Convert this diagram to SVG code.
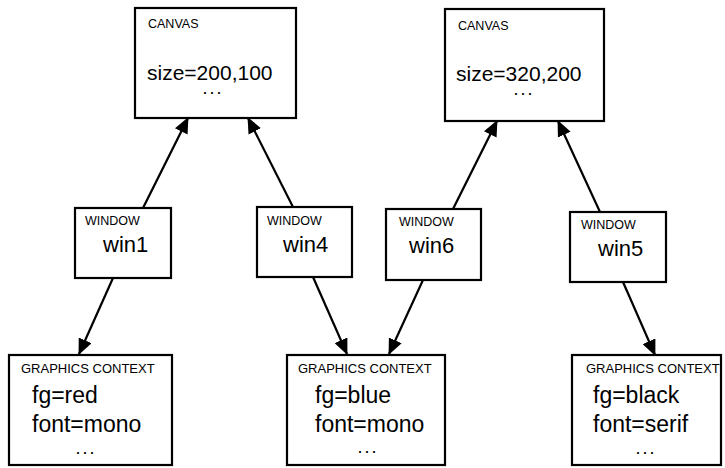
<svg xmlns="http://www.w3.org/2000/svg" width="725" height="468" viewBox="0 0 725 468">
<style>
.box{fill:#fff;stroke:#000;stroke-width:2.2}
.t{font-family:"Liberation Sans",Arial,sans-serif;fill:#000}
.s{font-size:12.5px}
.g{font-size:13px}
.m{font-size:21px}
.l{font-size:22px}
.x{font-size:23px}
.d{font-size:18px;letter-spacing:2px}
.e{stroke:#000;stroke-width:2.2;fill:none;marker-end:url(#ah)}
</style>
<defs>
<marker id="ah" markerUnits="userSpaceOnUse" markerWidth="16" markerHeight="14" refX="15" refY="7" orient="auto">
<path d="M0,0 L16,7 L0,14 Z" fill="#000"/>
</marker>
</defs>
<rect width="725" height="468" fill="#fff"/>
<g id="connectors">
<line class="e" x1="143" y1="208" x2="188" y2="118"/>
<line class="e" x1="293" y1="207" x2="248" y2="118"/>
<line class="e" x1="453" y1="209" x2="497" y2="121"/>
<line class="e" x1="600" y1="212" x2="558" y2="121"/>
<line class="e" x1="113" y1="278" x2="79" y2="354"/>
<line class="e" x1="313" y1="277" x2="347" y2="354"/>
<line class="e" x1="423" y1="280" x2="389" y2="354"/>
<line class="e" x1="623" y1="282" x2="655" y2="355"/>
</g>
<g id="canvas1">
<rect class="box" x="135" y="8" width="161" height="110"/>
<text class="t s" x="148" y="28">CANVAS</text>
<text class="t m" x="147" y="80">size=200,100</text>
<text class="t d" x="213" y="94" text-anchor="middle">...</text>
</g>
<g id="canvas2">
<rect class="box" x="445" y="9" width="159" height="112"/>
<text class="t s" x="458" y="30">CANVAS</text>
<text class="t m" x="456" y="81">size=320,200</text>
<text class="t d" x="524" y="95" text-anchor="middle">...</text>
</g>
<g id="win1">
<rect class="box" x="75" y="208" width="96" height="70"/>
<text class="t s" x="85" y="225">WINDOW</text>
<text class="t l" x="103" y="252">win1</text>
</g>
<g id="win4">
<rect class="box" x="257" y="207" width="95" height="70"/>
<text class="t s" x="267" y="225">WINDOW</text>
<text class="t l" x="283" y="252">win4</text>
</g>
<g id="win6">
<rect class="box" x="386" y="209" width="95" height="71"/>
<text class="t s" x="399" y="226">WINDOW</text>
<text class="t l" x="409" y="253">win6</text>
</g>
<g id="win5">
<rect class="box" x="570" y="212" width="96" height="70"/>
<text class="t s" x="581" y="229">WINDOW</text>
<text class="t l" x="598" y="256">win5</text>
</g>
<g id="gc1">
<rect class="box" x="9" y="355" width="163" height="110"/>
<text class="t g" x="21" y="373">GRAPHICS CONTEXT</text>
<text class="t x" x="32" y="403">fg=red</text>
<text class="t x" x="32" y="432">font=mono</text>
<text class="t d" x="86" y="454" text-anchor="middle">...</text>
</g>
<g id="gc2">
<rect class="box" x="287" y="355" width="158" height="110"/>
<text class="t g" x="298" y="373">GRAPHICS CONTEXT</text>
<text class="t x" x="315" y="403">fg=blue</text>
<text class="t x" x="315" y="432">font=mono</text>
<text class="t d" x="368" y="453" text-anchor="middle">...</text>
</g>
<g id="gc3">
<rect class="box" x="572" y="355" width="149" height="110"/>
<text class="t g" x="586" y="373">GRAPHICS CONTEXT</text>
<text class="t x" x="593" y="403">fg=black</text>
<text class="t x" x="593" y="432">font=serif</text>
<text class="t d" x="646" y="454" text-anchor="middle">...</text>
</g>
</svg>
